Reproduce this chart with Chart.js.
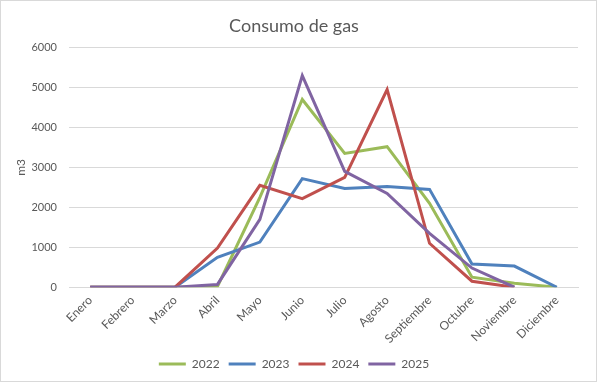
<!DOCTYPE html>
<html>
<head>
<meta charset="utf-8">
<script src="https://cdn.jsdelivr.net/npm/chart.js@4.4.1/dist/chart.umd.min.js"></script>
<style>
html, body { margin: 0; padding: 0; background: #fff; }
#wrap { width: 597px; height: 382px; position: relative; }
</style>
</head>
<body>
<div id="wrap"><canvas id="graficoGas"></canvas></div>
<script>
// ==============================
// DATOS
// ==============================

const meses = ["Enero","Febrero","Marzo","Abril","Mayo","Junio","Julio","Agosto","Septiembre","Octubre","Noviembre","Diciembre"];

const anios = ["2022","2023","2024","2025"];

const consumo2022 = [0,0,0,20,2250,4700,3350,3520,2100,250,100,0];
const consumo2023 = [0,0,0,750,1130,2720,2470,2520,2450,580,530,0];
const consumo2024 = [0,0,0,980,2550,2220,2750,4950,1100,150,0,null];
const consumo2025 = [0,0,0,70,1700,5300,2900,2350,1350,480,0,null];

const colores = ["#9bbb59","#4f81bd","#c0504d","#8064a2"];

const gris = "#595959";
const fuente = "Lato, 'Open Sans', sans-serif";

// ==============================
// BORDE DEL AREA
// ==============================

const bordePlugin = {
id: "borde",
beforeDraw(chart){
const c = chart.ctx;
c.save();
c.fillStyle = "#fff";
c.fillRect(0,0,chart.width,chart.height);
c.strokeStyle = "#d9d9d9";
c.lineWidth = 1;
c.strokeRect(0.5,0.5,chart.width-1,chart.height-1);
c.restore();
}
};

// ==============================
// GRAFICO
// ==============================

const series = [consumo2022, consumo2023, consumo2024, consumo2025];

const ctx = document.getElementById("graficoGas").getContext("2d");

let grafico = new Chart(ctx, {

type: "line",

data: {
labels: meses,
datasets: series.map((s, i) => ({
label: anios[i],
data: s,
borderColor: colores[i],
backgroundColor: colores[i],
borderWidth: 3,
pointRadius: 0,
tension: 0,
spanGaps: false,
order: 4 - i
}))
},

options: {
responsive: true,
maintainAspectRatio: false,
animation: false,
layout: { padding: { left: 10, right: 19, top: 0, bottom: 2 } },

plugins: {
title: {
display: true,
text: "Consumo de gas",
color: gris,
font: { family: fuente, size: 18, weight: "normal" },
padding: { top: 15, bottom: 11 }
},
legend: {
position: "bottom",
labels: {
usePointStyle: true,
pointStyle: "line",
pointStyleWidth: 27,
color: gris,
font: { family: fuente, size: 12 },
padding: 9,
sort: (a, b) => a.datasetIndex - b.datasetIndex
}
},
tooltip: { enabled: false }
},

scales: {
x: {
offset: true,
grid: { display: false, drawTicks: false },
border: { display: true, color: "#d9d9d9" },
ticks: {
color: gris,
font: { family: fuente, size: 12 },
maxRotation: 45,
minRotation: 45,
padding: 6,
autoSkip: false
},
afterFit(scale){ scale.height = scale.height - 3; }
},
y: {
min: 0,
max: 6000,
grid: { color: "#d9d9d9", drawTicks: false },
border: { display: false },
ticks: {
stepSize: 1000,
color: gris,
font: { family: fuente, size: 11 },
padding: 12,
callback: v => String(v)
},
title: {
display: true,
text: "m3",
color: gris,
font: { family: fuente, size: 12 },
padding: { top: 4, bottom: 0 }
},
afterFit(scale){ scale.width = 59; }
}
}

},

plugins: [bordePlugin]

});
</script>
</body>
</html>
